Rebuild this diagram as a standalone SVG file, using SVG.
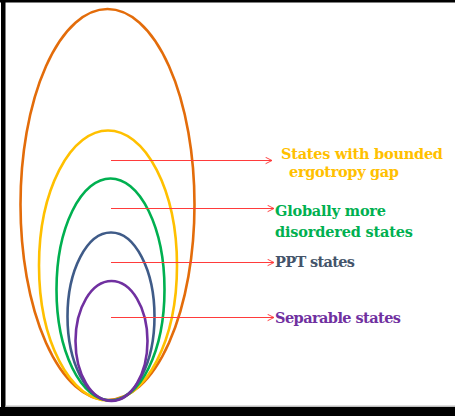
<svg xmlns="http://www.w3.org/2000/svg" width="455" height="416" viewBox="0 0 455 416">
<defs>
<marker id="ah" viewBox="0 0 10 10" refX="9" refY="5" markerWidth="8" markerHeight="8" markerUnits="userSpaceOnUse" orient="auto">
<path d="M1,1 L9,5 L1,9" fill="none" stroke="#FF3B3B" stroke-width="1.2"/>
</marker>
<style>
.set{fill:none;stroke-width:2.6}
.arr{stroke:#FF3B3B;stroke-width:1.1;fill:none;marker-end:url(#ah)}
.lbl{font-family:"DejaVu Serif","Liberation Serif",serif;font-weight:bold;font-size:14.5px}
</style>
</defs>
<rect x="0" y="0" width="455" height="416" fill="#ffffff"/>
<rect x="1" y="0" width="4.5" height="416" fill="#000"/>
<rect x="0" y="0" width="455" height="2.5" fill="#000"/>
<rect x="0" y="407" width="455" height="9" fill="#000"/>
<rect x="5.5" y="405.5" width="449.5" height="1.5" fill="#bdbdbd"/>
<g id="bounded-ergotropy">
<ellipse class="set" cx="107.5" cy="204.5" rx="87" ry="195.5" stroke="#E36C0A"/>
<ellipse class="set" cx="108" cy="265.5" rx="69" ry="135" stroke="#FFC000"/>
<text class="lbl" x="281" y="159" fill="#FFC000" textLength="162" lengthAdjust="spacing">States with bounded</text>
<text class="lbl" x="289" y="176.5" fill="#FFC000" textLength="110" lengthAdjust="spacing">ergotropy gap</text>
</g>
<g id="globally-more-disordered">
<ellipse class="set" cx="110.5" cy="289.5" rx="54" ry="111" stroke="#00B050"/>
<text class="lbl" x="275" y="215.5" fill="#00B050" textLength="111" lengthAdjust="spacing">Globally more</text>
<text class="lbl" x="275" y="237" fill="#00B050" textLength="138" lengthAdjust="spacing">disordered states</text>
</g>
<g id="ppt">
<ellipse class="set" cx="111" cy="316.5" rx="43.5" ry="84" stroke="#3F5B88"/>
<text class="lbl" x="275" y="267" fill="#44546A" textLength="80" lengthAdjust="spacing">PPT states</text>
</g>
<g id="separable">
<ellipse class="set" cx="111.5" cy="341" rx="36" ry="60" stroke="#7030A0"/>
<text class="lbl" x="275" y="323" fill="#7030A0" textLength="126" lengthAdjust="spacing">Separable states</text>
</g>
<g id="connectors">
<line class="arr" x1="111" y1="160.5" x2="272" y2="160.5"/>
<line class="arr" x1="111" y1="208.5" x2="274" y2="208.5"/>
<line class="arr" x1="111" y1="262.5" x2="274" y2="262.5"/>
<line class="arr" x1="111" y1="317.5" x2="274" y2="317.5"/>
</g>
</svg>
